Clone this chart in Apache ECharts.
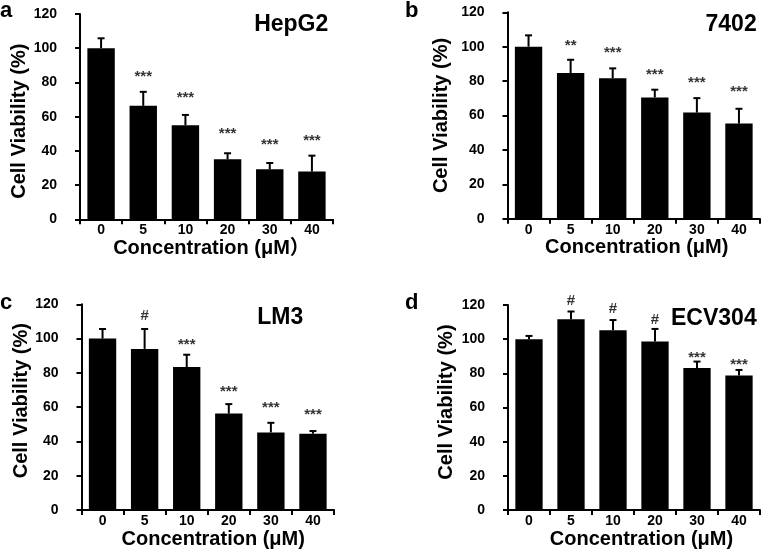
<!DOCTYPE html>
<html>
<head>
<meta charset="utf-8">
<script src="https://cdn.jsdelivr.net/npm/echarts@6/dist/echarts.min.js"></script>
<style>
  html, body { margin: 0; padding: 0; background: #fff; }
  #chart { width: 761px; height: 550px; }
</style>
</head>
<body>
<div id="chart"></div>
<script>
// ---------------- data ----------------
const categories = ['0', '5', '10', '20', '30', '40'];
const yTickMin = 0, yTickMax = 120, yTickStep = 20;
const panelLetters = ['a', 'b', 'c', 'd'];
const cellLines = ['HepG2', '7402', 'LM3', 'ECV304'];
const xAxisNames = ['Concentration (μM）', 'Concentration (μM)', 'Concentration (μM)', 'Concentration (μM)'];
const yAxisName = 'Cell Viability (%)';

const hepg2Values = [100, 66.3, 55.0, 35.1, 29.2, 27.9];
const hepg2Errors = [5.8, 8.2, 6.0, 3.5, 3.7, 9.3];
const hepg2Marks  = ['', '***', '***', '***', '***', '***'];
const hepg2MarkY  = [null, 84.8, 72.7, 51.9, 45.2, 47.4];

const bel7402Values = [100, 84.7, 81.6, 70.5, 61.7, 55.3];
const bel7402Errors = [6.6, 7.7, 5.8, 4.5, 8.4, 8.6];
const bel7402Marks  = ['', '**', '***', '***', '***', '***'];
const bel7402MarkY  = [null, 102.0, 97.9, 85.6, 80.8, 75.3];

const lm3Values = [100, 94.0, 83.4, 56.3, 45.3, 44.5];
const lm3Errors = [5.6, 11.6, 7.2, 5.5, 5.6, 1.6];
const lm3Marks  = ['', '#', '***', '***', '***', '***'];
const lm3MarkY  = [null, 113.3, 98.3, 70.5, 61.5, 57.0];

const ecv304Values = [100, 111.6, 105.2, 98.6, 83.2, 78.8];
const ecv304Errors = [1.9, 4.6, 6.0, 7.4, 3.7, 3.2];
const ecv304Marks  = ['', '#', '#', '#', '***', '***'];
const ecv304MarkY  = [null, 122.6, 117.6, 111.4, 91.1, 86.7];

const panelData = [
  { values: hepg2Values, errors: hepg2Errors, marks: hepg2Marks, markY: hepg2MarkY },
  { values: bel7402Values, errors: bel7402Errors, marks: bel7402Marks, markY: bel7402MarkY },
  { values: lm3Values, errors: lm3Errors, marks: lm3Marks, markY: lm3MarkY },
  { values: ecv304Values, errors: ecv304Errors, marks: ecv304Marks, markY: ecv304MarkY }
];

// ---------------- layout / style ----------------
const FONT = '"Liberation Sans", Arial, "Noto Sans CJK SC", sans-serif';
const layout = [
  { grid: { left: 80, top: 14, width: 253, height: 205.3 }, xGap: 16.5, xPad: [0, 0, 0, 10], yGap: 48, yPad: [0, 9, 0, 0], title: { right: 432.7, top: 13.2 }, letter: { left: 0, top: 0 } },
  { grid: { left: 507.5, top: 12.3, width: 252.5, height: 206.4 }, xGap: 13, xPad: [0, 0, 0, 6], yGap: 56.5, yPad: [0, 0, 0, 0], title: { right: 4.3, top: 13.2 }, letter: { left: 405, top: 0 } },
  { grid: { left: 81.5, top: 304.3, width: 252.5, height: 207.7 }, xGap: 17, xPad: [0, 0, 0, 11], yGap: 48.8, yPad: [0, 0, 0, 13], title: { right: 457.7, top: 306.5 }, letter: { left: 0, top: 292 } },
  { grid: { left: 508, top: 305, width: 252, height: 207.3 }, xGap: 17, xPad: [0, 0, 0, 15], yGap: 51.3, yPad: [0, 0, 0, 11], title: { right: 4.3, top: 307 }, letter: { left: 405, top: 292 } }
];

const grids = [], xAxes = [], yAxes = [], series = [], titles = [];

layout.forEach((L, i) => {
  grids.push(Object.assign({ containLabel: false }, L.grid));
  xAxes.push({
    type: 'category', gridIndex: i, data: categories, boundaryGap: true,
    name: xAxisNames[i], nameLocation: 'middle', nameGap: L.xGap,
    nameTextStyle: { fontFamily: FONT, fontWeight: 'bold', fontSize: 20, color: '#000', padding: L.xPad },
    axisLine: { lineStyle: { color: '#000', width: 2 } },
    axisTick: { show: true, interval: 0, alignWithLabel: false, length: 5, lineStyle: { color: '#000', width: 2 } },
    axisLabel: { interval: 0, margin: 4, fontFamily: FONT, fontWeight: 'bold', fontSize: 14, color: '#000' },
    splitLine: { show: false }
  });
  yAxes.push({
    type: 'value', gridIndex: i, min: yTickMin, max: yTickMax, interval: yTickStep,
    name: yAxisName, nameLocation: 'middle', nameGap: L.yGap, nameRotate: 90,
    nameTextStyle: { fontFamily: FONT, fontWeight: 'bold', fontSize: 20, color: '#000', padding: L.yPad },
    axisLine: { show: true, lineStyle: { color: '#000', width: 2 } },
    axisTick: { show: true, length: 5, lineStyle: { color: '#000', width: 2 } },
    axisLabel: { margin: 23, fontFamily: FONT, fontWeight: 'bold', fontSize: 14, color: '#000' },
    splitLine: { show: false }
  });
  const d = panelData[i];
  series.push({
    type: 'bar', xAxisIndex: i, yAxisIndex: i, data: d.values, barWidth: '65%',
    itemStyle: { color: '#000' }, silent: true, animation: false
  });
  series.push({
    type: 'custom', xAxisIndex: i, yAxisIndex: i, silent: true, animation: false,
    data: d.values.map((v, k) => [k, v, v + d.errors[k]]),
    renderItem: function (params, api) {
      const p0 = api.coord([api.value(0), api.value(1)]);
      const p1 = api.coord([api.value(0), api.value(2)]);
      const hw = 3.5;
      return {
        type: 'group',
        children: [
          { type: 'line', shape: { x1: p0[0], y1: p0[1], x2: p1[0], y2: p1[1] }, style: { stroke: '#000', lineWidth: 2 } },
          { type: 'line', shape: { x1: p1[0] - hw, y1: p1[1], x2: p1[0] + hw, y2: p1[1] }, style: { stroke: '#000', lineWidth: 2 } }
        ]
      };
    }
  });
  series.push({
    type: 'scatter', xAxisIndex: i, yAxisIndex: i, silent: true, animation: false, clip: false,
    symbolSize: 0,
    data: d.marks.map((m, k) => m ? { value: [k, d.markY[k]], mark: m } : null).filter(Boolean),
    label: {
      show: true, position: 'inside',
      formatter: p => p.data.mark,
      fontFamily: FONT, fontSize: 15, fontWeight: 'bold', color: '#000'
    }
  });
  titles.push({
    text: panelLetters[i], left: L.letter.left, top: L.letter.top, padding: 0,
    textStyle: { fontFamily: FONT, fontWeight: 'bold', fontSize: 22, color: '#000' }
  });
  titles.push({
    text: cellLines[i], right: L.title.right, top: L.title.top, padding: 0,
    textStyle: { fontFamily: FONT, fontWeight: 'bold', fontSize: 23, color: '#000' }
  });
});

// asterisks sit high in the glyph box; nudge them down, '#' stays centred
series.forEach(s => {
  if (s.type === 'scatter') {
    s.data = s.data.map(it => Object.assign({}, it, {
      label: { offset: [0, it.mark.indexOf('*') >= 0 ? 3 : 0] }
    }));
  }
});

const chart = echarts.init(document.getElementById('chart'), null, { renderer: 'canvas' });
chart.setOption({
  animation: false,
  backgroundColor: '#fff',
  title: titles,
  grid: grids,
  xAxis: xAxes,
  yAxis: yAxes,
  series: series
});
</script>
</body>
</html>
